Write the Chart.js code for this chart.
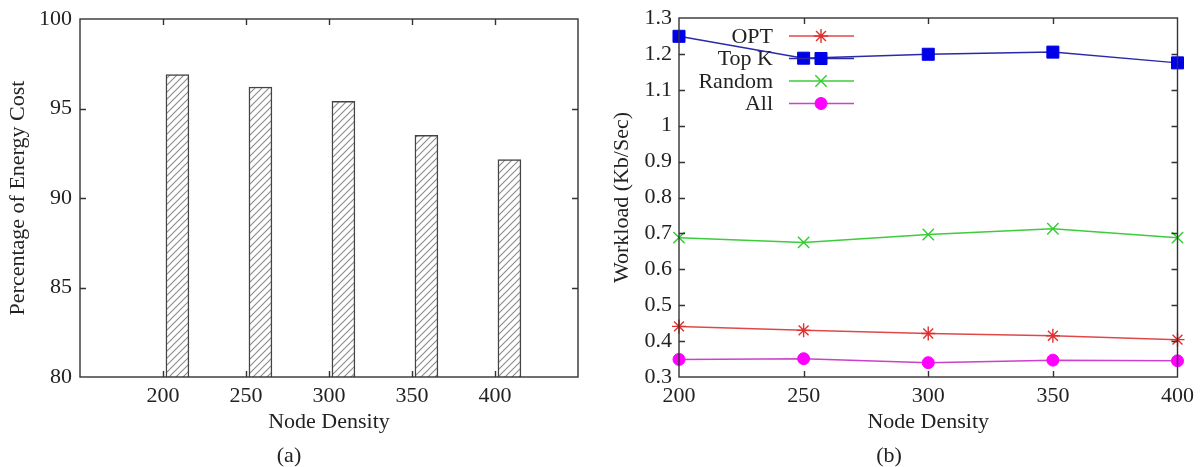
<!DOCTYPE html>
<html>
<head>
<meta charset="utf-8">
<script src="https://cdn.jsdelivr.net/npm/chart.js@4/dist/chart.umd.min.js"></script>
<style>
  html, body { margin: 0; padding: 0; background: #fff; }
  #wrap { position: relative; width: 1202px; height: 467px; }
  #boxA { position: absolute; left: 0; top: 0; width: 600px; height: 467px; }
  #boxB { position: absolute; left: 600px; top: 0; width: 602px; height: 467px; }
</style>
</head>
<body>
<div id="wrap">
  <div id="boxA"><canvas id="chartA"></canvas></div>
  <div id="boxB"><canvas id="chartB"></canvas></div>
</div>
<script>
// node densities used on both panels
const densities = [200, 250, 300, 350, 400];

// (a) percentage of energy cost
const energyPct = [96.9, 96.2, 95.4, 93.5, 92.15];
const energyTicks = [80, 85, 90, 95, 100];

// (b) workload, Kb/Sec
const optLoad = [0.441, 0.430, 0.421, 0.415, 0.404];
const topKLoad = [1.249, 1.188, 1.199, 1.205, 1.175];
const randomLoad = [0.688, 0.675, 0.697, 0.713, 0.688];
const allLoad = [0.349, 0.351, 0.340, 0.347, 0.345];
const workloadTicks = [0.3, 0.4, 0.5, 0.6, 0.7, 0.8, 0.9, 1.0, 1.1, 1.2, 1.3];

const FONT = "'Liberation Serif', 'DejaVu Serif', serif";
const INK = '#222';
const BAR_SHIFT = 8.7; // gnuplot draws the boxes just right of the tick

function hatch() {
  const c = document.createElement('canvas');
  c.width = 7; c.height = 7;
  const g = c.getContext('2d');
  g.fillStyle = '#fff';
  g.fillRect(0, 0, 7, 7);
  g.strokeStyle = '#8a8a8a';
  g.lineWidth = 1.1;
  g.beginPath();
  g.moveTo(-1, 8); g.lineTo(8, -1);
  g.moveTo(-1, 1); g.lineTo(1, -1);
  g.moveTo(6, 8); g.lineTo(8, 6);
  g.stroke();
  return g.createPattern(c, 'repeat');
}

// box around plot plus gnuplot style inward ticks on all four sides
const frame = {
  id: 'frame',
  afterDatasetsDraw(chart) {
    const { ctx, chartArea: a, scales: { x, y } } = chart;
    const len = 6;
    ctx.save();
    ctx.strokeStyle = '#333';
    ctx.lineWidth = 1.4;
    ctx.beginPath();
    x.ticks.forEach(t => {
      const px = Math.round(x.getPixelForValue(t.value)) + 0.5;
      if (px <= a.left + 1 || px >= a.right - 1) return;
      ctx.moveTo(px, a.bottom); ctx.lineTo(px, a.bottom - len);
      ctx.moveTo(px, a.top); ctx.lineTo(px, a.top + len);
    });
    y.ticks.forEach(t => {
      const py = Math.round(y.getPixelForValue(t.value)) + 0.5;
      if (py <= a.top + 1 || py >= a.bottom - 1) return;
      ctx.moveTo(a.left, py); ctx.lineTo(a.left + len, py);
      ctx.moveTo(a.right, py); ctx.lineTo(a.right - len, py);
    });
    ctx.stroke();
    ctx.strokeRect(a.left, a.top, a.right - a.left, a.bottom - a.top);
    ctx.restore();
  }
};

// legend inside panel (b): label, then sample line with marker
const keyBox = {
  id: 'keyBox',
  afterDraw(chart) {
    const { ctx, chartArea: a } = chart;
    ctx.save();
    ctx.font = '22px ' + FONT;
    ctx.textAlign = 'right';
    ctx.textBaseline = 'middle';
    chart.data.datasets.forEach((ds, i) => {
      const yy = a.top + 18 + i * 22.5;
      ctx.fillStyle = INK;
      ctx.fillText(ds.label, a.left + 94, yy + 1);
      ctx.strokeStyle = ds.borderColor;
      ctx.lineWidth = 1.5;
      ctx.beginPath();
      ctx.moveTo(a.left + 110, yy);
      ctx.lineTo(a.left + 175, yy);
      ctx.stroke();
      ctx.fillStyle = ds.pointBackgroundColor;
      ctx.strokeStyle = ds.pointBorderColor;
      ctx.lineWidth = ds.pointBorderWidth;
      Chart.helpers.drawPoint(ctx, {
        pointStyle: ds.pointStyle, radius: ds.pointRadius, rotation: 0, borderWidth: ds.pointBorderWidth
      }, a.left + 142, yy);
    });
    ctx.restore();
  }
};

function tickFont() { return { family: FONT, size: 22, lineHeight: 1 }; }

function fixedTicks(list) {
  return function (scale) { scale.ticks = list.map(v => ({ value: v })); };
}

function makeBarChart() {
  const ctx = document.getElementById('chartA');
  new Chart(ctx, {
    type: 'bar',
    data: {
      datasets: [{
        data: densities.map((d, i) => ({ x: d + BAR_SHIFT, y: energyPct[i] })),
        backgroundColor: hatch(),
        borderColor: '#444',
        borderWidth: 1.5,
        borderSkipped: 'bottom',
        barThickness: 23
      }]
    },
    options: {
      responsive: true,
      maintainAspectRatio: false,
      animation: false,
      layout: { padding: { top: 15, right: 22, left: 0, bottom: 0 } },
      plugins: {
        legend: { display: false },
        tooltip: { enabled: false },
        title: {
          display: true, position: 'bottom', text: '(a)', color: INK,
          font: { family: FONT, size: 22, weight: 'normal', lineHeight: 1 },
          padding: { top: 0, bottom: 0 }
        }
      },
      scales: {
        x: {
          type: 'linear', min: 150, max: 450, offset: false,
          afterBuildTicks: fixedTicks(densities),
          afterFit(s) { s.height = 68; },
          grid: { display: false, drawTicks: false, offset: false },
          border: { display: false },
          ticks: { color: INK, font: tickFont(), padding: 8, maxRotation: 0 },
          title: {
            display: true, text: 'Node Density', color: INK,
            font: tickFont(), padding: { top: 0, bottom: 12 }
          }
        },
        y: {
          min: 80, max: 100,
          afterBuildTicks: fixedTicks(energyTicks),
          afterFit(s) { s.width = 80; },
          grid: { display: false, drawTicks: false },
          border: { display: false },
          ticks: { color: INK, font: tickFont(), padding: 8 },
          title: {
            display: true, text: 'Percentage of Energy Cost', color: INK,
            font: tickFont(), padding: { top: 7, bottom: 0 }
          }
        }
      }
    },
    plugins: [frame]
  });
}

function series(label, values, line, marker, style, radius, width) {
  return {
    label: label,
    data: densities.map((d, i) => ({ x: d, y: values[i] })),
    borderColor: line,
    borderWidth: 1.5,
    pointBackgroundColor: marker,
    pointBorderColor: marker,
    pointBorderWidth: width,
    pointStyle: style,
    pointRadius: radius,
    tension: 0,
    clip: false
  };
}

function makeLineChart() {
  const ctx = document.getElementById('chartB');
  new Chart(ctx, {
    type: 'line',
    data: {
      datasets: [
        series('OPT', optLoad, '#e04848', '#e03030', 'star', 7, 1.4),
        series('Top K', topKLoad, '#2a2aa8', '#0000e8', 'rect', 8.5, 1),
        series('Random', randomLoad, '#3ccc3c', '#30cc30', 'crossRot', 8, 1.4),
        series('All', allLoad, '#cc40cc', '#ff00ff', 'circle', 6, 1)
      ]
    },
    options: {
      responsive: true,
      maintainAspectRatio: false,
      animation: false,
      layout: { padding: { top: 15, right: 24, left: 0, bottom: 0 } },
      plugins: {
        legend: { display: false },
        tooltip: { enabled: false },
        title: {
          display: true, position: 'bottom', text: '(b)', color: INK,
          font: { family: FONT, size: 22, weight: 'normal', lineHeight: 1 },
          padding: { top: 0, bottom: 0 }
        }
      },
      scales: {
        x: {
          type: 'linear', min: 200, max: 400,
          afterBuildTicks: fixedTicks(densities),
          afterFit(s) { s.height = 68; },
          grid: { display: false, drawTicks: false },
          border: { display: false },
          ticks: { color: INK, font: tickFont(), padding: 8, maxRotation: 0 },
          title: {
            display: true, text: 'Node Density', color: INK,
            font: tickFont(), padding: { top: 0, bottom: 12 }
          }
        },
        y: {
          min: 0.3, max: 1.3,
          afterBuildTicks: fixedTicks(workloadTicks),
          afterFit(s) { s.width = 79; },
          grid: { display: false, drawTicks: false },
          border: { display: false },
          ticks: {
            color: INK, font: tickFont(), padding: 7,
            callback: v => String(+Number(v).toFixed(1))
          },
          title: {
            display: true, text: 'Workload (Kb/Sec)', color: INK,
            font: tickFont(), padding: { top: 11, bottom: 0 }
          }
        }
      }
    },
    plugins: [frame, keyBox]
  });
}

document.addEventListener('DOMContentLoaded', function () {
  makeBarChart();
  makeLineChart();
});
</script>
</body>
</html>
